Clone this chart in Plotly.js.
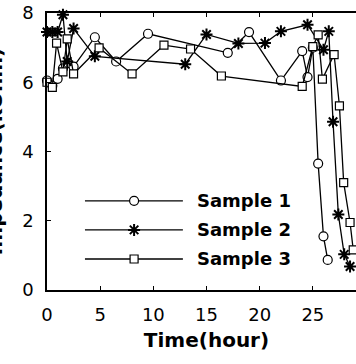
<!DOCTYPE html>
<html>
<head>
<meta charset="utf-8">
<script src="https://cdn.plot.ly/plotly-3.0.1.min.js"></script>
<style>
html,body{margin:0;padding:0;overflow:hidden;background:#fff;width:356px;height:364px;}
#chart{position:absolute;left:-30px;top:0;width:400px;height:364px;}
</style>
</head>
<body>
<div id="chart"></div>
<script>
// ---- data ----
const seriesNames = ["Sample 1", "Sample 2", "Sample 3"];

const s1Time = [0, 0.5, 1, 1.5, 2, 2.5, 4.5, 6.5, 9.5, 17, 19, 22, 24, 24.5, 25, 25.5, 26, 26.4];
const s1Imp  = [6.05, 5.9, 6.1, 6.4, 6.55, 6.45, 7.3, 6.6, 7.4, 6.85, 7.45, 6.05, 6.9, 6.15, 7.0, 3.65, 1.55, 0.87];

const s2Time = [0, 0.5, 1, 1.5, 1.9, 2.5, 4.5, 13, 15, 18, 20.5, 22, 24.5, 26, 26.5, 26.9, 27.4, 27.95, 28.5];
const s2Imp  = [7.45, 7.45, 7.45, 7.95, 6.6, 7.55, 6.75, 6.52, 7.38, 7.12, 7.13, 7.47, 7.66, 6.94, 7.47, 4.86, 2.18, 1.03, 0.68];

const s3Time = [0, 0.5, 0.9, 1.5, 1.9, 2.5, 4.9, 8, 11, 13.5, 16.4, 24, 25, 25.5, 25.9, 27, 27.5, 27.9, 28.5, 28.8];
const s3Imp  = [6.0, 5.85, 7.13, 6.3, 7.25, 6.24, 6.99, 6.24, 7.07, 6.96, 6.18, 5.88, 7.03, 7.37, 6.09, 6.8, 5.32, 3.1, 1.95, 1.16];

const xTicks = [0, 5, 10, 15, 20, 25, 30];
const yTicks = [0, 2, 4, 6, 8];
const xTitle = "Time(hour)";
const yTitle = "Impedance(kOhm)";

// ---- styling ----
const FONT = "DejaVu Sans";
const markerStyles = [
  {symbol: "circle", size: 9, color: "#ffffff", line: {color: "#000", width: 1.2}},
  {symbol: "asterisk-open", size: 10, color: "#000", line: {color: "#000", width: 2}},
  {symbol: "square", size: 8, color: "#ffffff", line: {color: "#000", width: 1.2}}
];
const lineStyle = {color: "#000", width: 1.3};

const xs = [s1Time, s2Time, s3Time];
const ys = [s1Imp, s2Imp, s3Imp];

const traces = [];
for (let i = 0; i < 3; i++) {
  traces.push({
    type: "scatter", mode: "lines+markers", name: seriesNames[i],
    x: xs[i], y: ys[i], line: lineStyle, marker: markerStyles[i],
    showlegend: false, cliponaxis: false
  });
}

// custom legend drawn on an overlay axis (long line samples like the reference)
const legX0 = 0.119, legX1 = 0.426, legXm = 0.273, legTextX = 0.465;
const legY = [0.322, 0.217, 0.112];
const annotations = [];
for (let i = 0; i < 3; i++) {
  traces.push({
    type: "scatter", mode: "lines", x: [legX0, legX1], y: [legY[i], legY[i]],
    xaxis: "x2", yaxis: "y2", line: lineStyle, showlegend: false, hoverinfo: "skip"
  });
  traces.push({
    type: "scatter", mode: "markers", x: [legXm], y: [legY[i]],
    xaxis: "x2", yaxis: "y2", marker: markerStyles[i], showlegend: false, hoverinfo: "skip"
  });
  annotations.push({
    xref: "x2", yref: "y2", x: legTextX, y: legY[i], xanchor: "left", yanchor: "middle",
    text: seriesNames[i], showarrow: false,
    font: {family: FONT, size: 18, color: "#000", weight: "bold"}
  });
}

const axisCommon = {
  showline: true, linecolor: "#000", linewidth: 1.8, mirror: "ticks",
  ticks: "inside", ticklen: 4, tickwidth: 1.2, tickcolor: "#000",
  showgrid: false, zeroline: false,
  tickfont: {family: FONT, size: 18, color: "#000"}
};

const layout = {
  width: 400, height: 364,
  margin: {l: 77, r: 4, t: 13, b: 74},
  paper_bgcolor: "#fff", plot_bgcolor: "#fff",
  showlegend: false,
  xaxis: Object.assign({}, axisCommon, {
    range: [0, 30], tickvals: xTicks, ticklabelstandoff: 8,
    title: {text: xTitle, standoff: 8, font: {family: FONT, size: 20, color: "#000", weight: "bold"}}
  }),
  yaxis: Object.assign({}, axisCommon, {
    range: [0, 8], tickvals: yTicks, ticklabelstandoff: 8,
    title: {text: yTitle, standoff: 14, font: {family: FONT, size: 20, color: "#000", weight: "bold"}}
  }),
  xaxis2: {overlaying: "x", range: [0, 1], visible: false, fixedrange: true},
  yaxis2: {overlaying: "y", range: [0, 1], visible: false, fixedrange: true},
  annotations: annotations
};

Plotly.newPlot("chart", traces, layout, {staticPlot: true, displayModeBar: false});
</script>
</body>
</html>
